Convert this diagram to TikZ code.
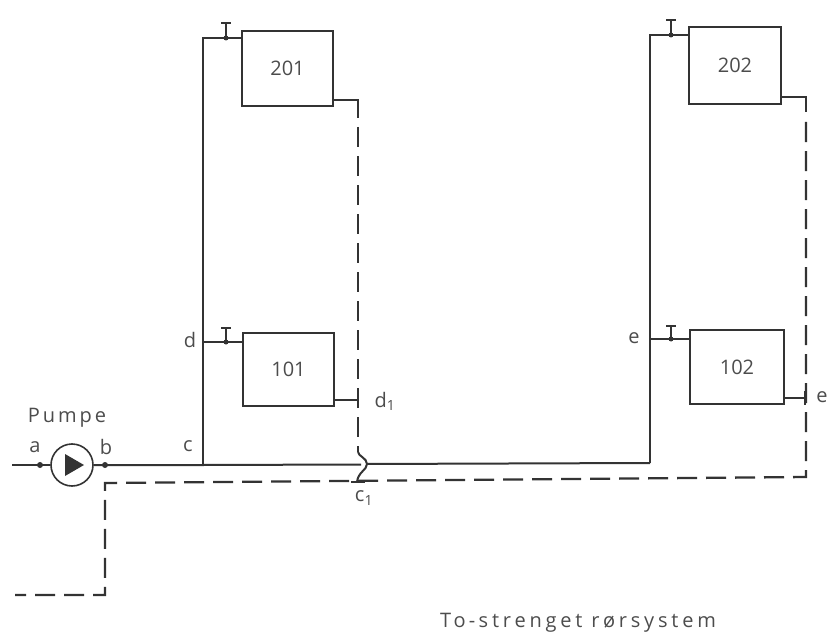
\documentclass[tikz,border=0pt]{standalone}
\usepackage{fontspec}
\setmainfont{Open Sans}
\definecolor{ink}{gray}{0.2}
\definecolor{txt}{gray}{0.3}
\tikzset{
  rad/.style={draw=ink,line width=2pt,minimum width=#1,inner sep=0pt,text=txt,font=\fontsize{20}{20}\selectfont},
  pipe/.style={draw=ink,line width=2pt},
  ret/.style={draw=ink,line width=2.3pt,dash pattern=on 20pt off 9pt},
  lbl/.style={text=txt,inner sep=0pt,font=\fontsize{20}{20}\selectfont},
  dotn/.style={circle,fill=ink,minimum size=6pt,inner sep=0pt},
  pumpn/.style={circle,draw=ink,line width=1.6pt,minimum size=42pt,inner sep=0pt}
}
\begin{document}
\begin{tikzpicture}[x=1pt,y=-1pt]
\useasboundingbox (0,0) rectangle (831,642);
% radiators
\node[rad=91pt,minimum height=75pt] (r201) at (287.5,68.5) {201};
\node[rad=91pt,minimum height=73pt] (r101) at (288.5,369.5) {101};
\node[rad=92pt,minimum height=77pt] (r202) at (735,65.5) {202};
\node[rad=94pt,minimum height=74pt] (r102) at (737,367) {102};
% pump
\node[pumpn] (pump) at (72,465) {};
\fill[ink] (65,454) -- (84,465) -- (65,476) -- cycle;
% coordinates
\coordinate (in) at (12,465);
\coordinate (a) at (40,465);
\coordinate (b) at (105,465);
\coordinate (c) at (203,465);
\coordinate (ctop) at (203,38);
\coordinate (d) at (203,342);
\coordinate (hopL) at (361,464.5);
\coordinate (hopR) at (366,464);
\coordinate (f) at (650,463);
\coordinate (ftop) at (650,35);
\coordinate (e) at (650,339);
\coordinate (v1) at (226,38);
\coordinate (v1t) at (226,23);
\coordinate (v2) at (226,342);
\coordinate (v2t) at (226,328);
\coordinate (v3) at (671,35);
\coordinate (v3t) at (671,20);
\coordinate (v4) at (671,339);
\coordinate (v4t) at (671,326);
% supply
\draw[pipe] (in) -- (pump.west);
\draw[pipe] (pump.east) -- (c) -- (hopL);
\draw[pipe] (hopR) -- (f);
\draw[pipe] (c) -- (ctop) -- (ctop -| r201.west);
\draw[pipe] (d) -- (d -| r101.west);
\draw[pipe] (f) -- (ftop) -- (ftop -| r202.west);
\draw[pipe] (e) -- (e -| r102.west);
% valves
\foreach \p/\t in {v1/v1t,v2/v2t,v3/v3t,v4/v4t}{
  \draw[pipe] (\p) -- (\t);
  \draw[draw=ink,line width=1.6pt] ([xshift=-5pt]\t) -- ([xshift=5pt]\t);
  \node[dotn,minimum size=5pt] at (\p) {};
}
\node[dotn] at (a) {};
\node[dotn] at (b) {};
% return from radiators
\coordinate (s201) at (333,100);
\coordinate (k201) at (358,100);
\coordinate (s101) at (334,400);
\coordinate (k101) at (358,400);
\coordinate (s202) at (781,97);
\coordinate (k202) at (806,97);
\coordinate (s102) at (784,398);
\coordinate (k102) at (805,398);
\coordinate (j1) at (358,452);
\coordinate (j2) at (357,482);
\draw[pipe] (s201) -- (k201) -- (358,118);
\draw[ret,dash phase=-5pt] (358,122) -- (j1);
\draw[pipe] (s101) -- (k101);
\draw[pipe] (358,393) -- (358,407);
\draw[pipe] (j1) .. controls (358,456) and (367,458) .. (367,464) .. controls (367,470) and (358,472) .. (j2);
\draw[pipe] (s202) -- (k202) -- (806,112);
\draw[ret] (806,122) -- (806,477) -- (105,483) -- (105,595) -- (15,595);
\draw[pipe] (s102) -- (k102);
\draw[pipe] (805,391) -- (805,405);
\draw[pipe] (351,482) -- (365,482);
% labels
\node[lbl,font=\fontsize{20}{20}\selectfont\addfontfeature{LetterSpace=15}] (pumpe) at (67,418) {Pumpe};
\node[lbl] (la) at (35,447) {a};
\node[lbl] (lb) at (106,447) {b};
\node[lbl] (lc) at (188,446) {c};
\node[lbl] (ld) at (190,340) {d};
\node[lbl] (ld1) at (385,401) {d$_{\mathrm{1}}$};
\node[lbl] (lc1) at (364,498) {c$_{\mathrm{1}}$};
\node[lbl] (le1) at (634,338) {e};
\node[lbl] (le2) at (822,397) {e};
\node[lbl,font=\fontsize{20}{20}\selectfont\addfontfeature{LetterSpace=19}] (title) at (578,623) {To\,-\,strenget rørsystem};
\end{tikzpicture}
\end{document}
